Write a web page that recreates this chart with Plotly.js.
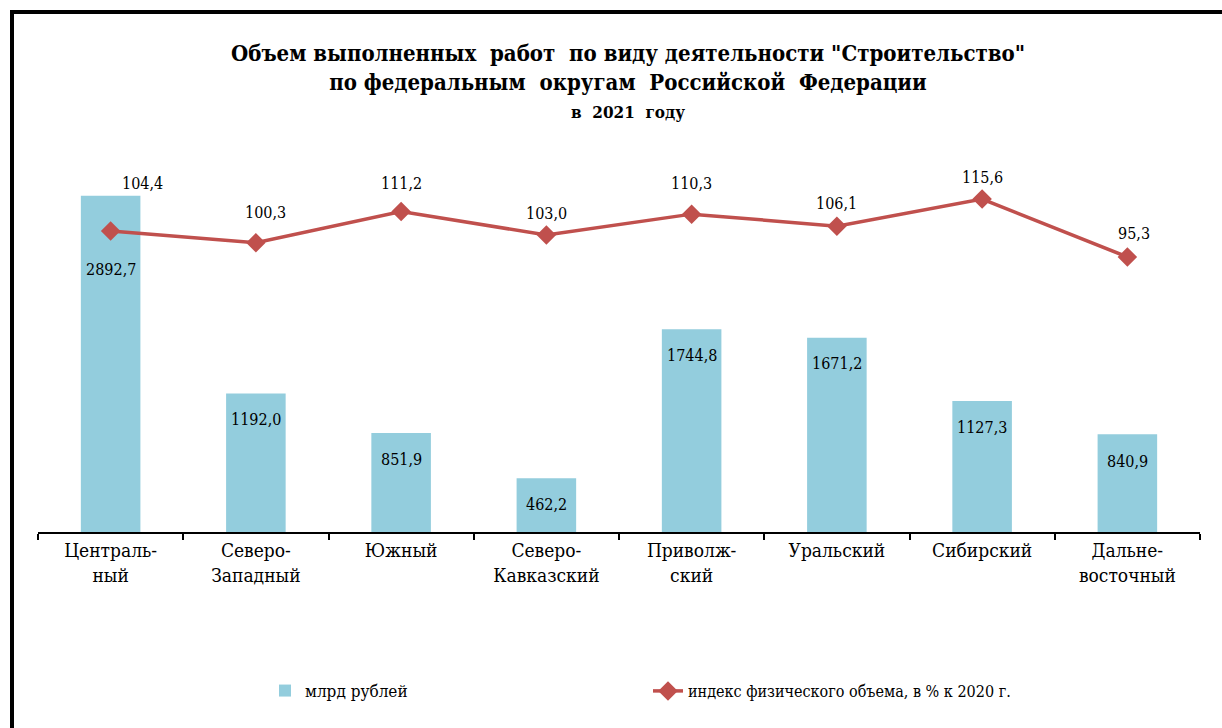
<!DOCTYPE html>
<html>
<head>
<meta charset="utf-8">
<script src="https://cdn.plot.ly/plotly-3.0.1.min.js"></script>
<style>html,body{margin:0;padding:0;background:#fff;}#chart{width:1222px;height:728px;}</style>
</head>
<body>
<div id="chart"></div>
<script>
const categories = ["Централь-<br>ный", "Северо-<br>Западный", "Южный", "Северо-<br>Кавказский", "Приволж-<br>ский", "Уральский", "Сибирский", "Дальне-<br>восточный"];
const volume = [2892.7, 1192.0, 851.9, 462.2, 1744.8, 1671.2, 1127.3, 840.9];
const index = [104.4, 100.3, 111.2, 103.0, 110.3, 106.1, 115.6, 95.3];
const seriesNames = ["млрд рублей", "индекс физического объема, в % к 2020 г."];

const idxShift = [[32, 48], [10, 30], [0, 28], [0, 22], [0, 31], [0, 23], [0, 22], [7, 24]];
const volShift = [-74, -26, -26, -26, -26, -26, -26, -27];

const W = 1222, H = 728, ML = 38, MR = 22, MT = 160, MB = 196;
const PW = W - ML - MR, PH = H - MT - MB;
const px = x => (x - ML) / PW;
const py = y => (H - MB - y) / PH;
const fmt = v => v.toFixed(1).replace('.', ',');
const FONT = "DejaVu Serif Condensed, DejaVu Serif";

const traces = [
  {
    type: 'bar', x: categories, y: volume, name: seriesNames[0],
    marker: {color: '#93CDDD'}, width: 0.41, yaxis: 'y', legend: 'legend',
    hoverinfo: 'skip'
  },
  {
    type: 'scatter', mode: 'lines+markers', x: categories, y: index, name: seriesNames[1],
    line: {color: '#C0504D', width: 3.5},
    marker: {symbol: 'diamond', size: 15, color: '#C0504D'},
    yaxis: 'y2', legend: 'legend2', hoverinfo: 'skip'
  }
];

const annotations = [];
categories.forEach((c, i) => {
  annotations.push({
    x: c, y: index[i], xref: 'x', yref: 'y2', text: fmt(index[i]), showarrow: false,
    xshift: idxShift[i][0], yshift: idxShift[i][1], font: {family: FONT, size: 16, color: '#000'}
  });
  annotations.push({
    x: c, y: volume[i], xref: 'x', yref: 'y', text: fmt(volume[i]), showarrow: false,
    yshift: volShift[i], font: {family: FONT, size: 16, color: '#000'}
  });
});

const layout = {
  width: W, height: H,
  margin: {l: ML, r: MR, t: MT, b: MB},
  paper_bgcolor: '#fff', plot_bgcolor: '#fff',
  font: {family: FONT, size: 18, color: '#000'},
  separators: ', ',
  title: {
    text: '<b>Объем выполненных  работ  по виду деятельности "Строительство"<br>по федеральным  округам  Российской  Федерации<br><span style="font-size:17px">в  2021  году</span></b>',
    font: {family: FONT, size: 22, color: '#000'},
    x: px(628), xref: 'paper', xanchor: 'center',
    y: 1 - 61 / H, yref: 'container', yanchor: 'top'
  },
  xaxis: {
    type: 'category', showline: true, linecolor: '#000', linewidth: 2,
    ticks: 'outside', tickson: 'boundaries', ticklen: 6, tickwidth: 2, tickcolor: '#000',
    showgrid: false, zeroline: false, fixedrange: true,
    tickfont: {family: FONT, size: 19, color: '#000'}
  },
  yaxis: {range: [0, PH / 0.1162], visible: false, showgrid: false, zeroline: false, fixedrange: true},
  yaxis2: {range: [95.3 - (H - MB - 257) / 2.857, 95.3 + (257 - MT) / 2.857], overlaying: 'y', side: 'right', visible: false, showgrid: false, zeroline: false, fixedrange: true},
  bargap: 0.59,
  showlegend: true,
  legend: {orientation: 'h', x: px(265), y: py(691), xanchor: 'left', yanchor: 'middle', font: {family: FONT, size: 17, color: '#000'}, bgcolor: 'rgba(0,0,0,0)'},
  legend2: {orientation: 'h', x: px(648), y: py(691), xanchor: 'left', yanchor: 'middle', font: {family: FONT, size: 16, color: '#000'}, bgcolor: 'rgba(0,0,0,0)'},
  annotations: annotations,
  shapes: [
    {type: 'line', xref: 'paper', yref: 'paper', x0: px(12), x1: px(12), y0: py(10), y1: py(740), line: {color: '#000', width: 4}},
    {type: 'line', xref: 'paper', yref: 'paper', x0: px(10), x1: px(1230), y0: py(12), y1: py(12), line: {color: '#000', width: 4}}
  ]
};

Plotly.newPlot('chart', traces, layout, {displayModeBar: false, staticPlot: true});
</script>
</body>
</html>
